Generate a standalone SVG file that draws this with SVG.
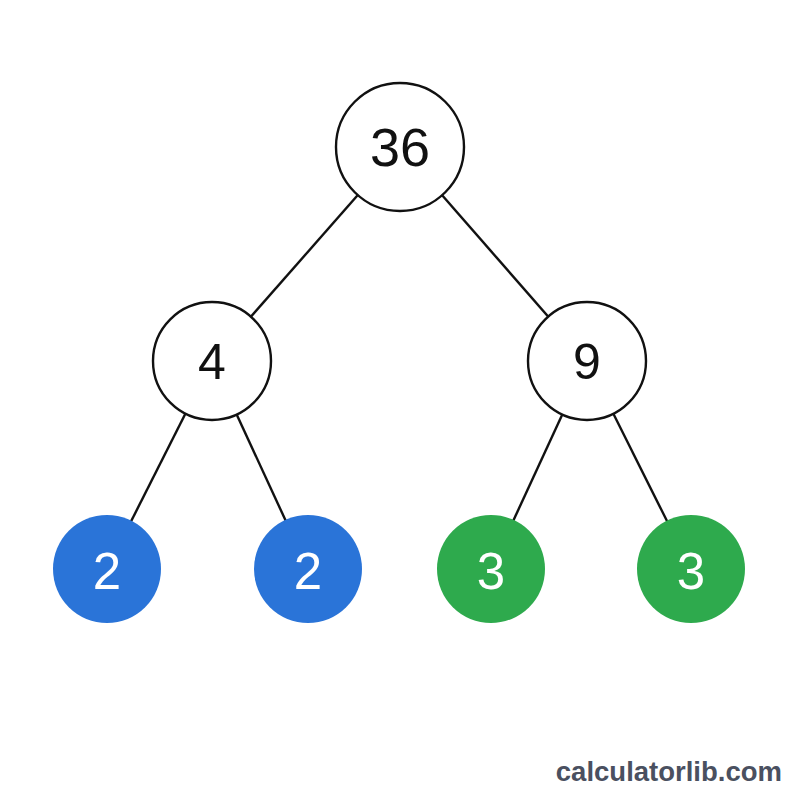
<svg xmlns="http://www.w3.org/2000/svg" width="800" height="800" viewBox="0 0 800 800">
<style>
.edge{stroke:#111;stroke-width:2.4;fill:none}
.inner{fill:#fff;stroke:#111;stroke-width:2.4}
.blue{fill:#2a74d8}
.green{fill:#2eaa4d}
.t{font-family:"Liberation Sans",Arial,sans-serif;text-anchor:middle}
.dark{fill:#111}
.white{fill:#fff}
</style>
<rect width="800" height="800" fill="#fff"/>
<g id="connectors">
<line class="edge" x1="400" y1="147" x2="212" y2="361"/>
<line class="edge" x1="400" y1="147" x2="587" y2="361"/>
<line class="edge" x1="212" y1="361" x2="107" y2="569"/>
<line class="edge" x1="212" y1="361" x2="308" y2="569"/>
<line class="edge" x1="587" y1="361" x2="491" y2="569"/>
<line class="edge" x1="587" y1="361" x2="691" y2="569"/>
</g>
<g id="n36"><circle class="inner" cx="400" cy="147" r="64"/><text class="t dark" x="400" y="166" font-size="54">36</text></g>
<g id="n4"><circle class="inner" cx="212" cy="361" r="59"/><text class="t dark" x="212" y="379" font-size="50">4</text></g>
<g id="n9"><circle class="inner" cx="587" cy="361" r="59"/><text class="t dark" x="587" y="379" font-size="50">9</text></g>
<g id="n2a"><circle class="blue" cx="107" cy="569" r="54"/><text class="t white" x="107" y="589" font-size="51">2</text></g>
<g id="n2b"><circle class="blue" cx="308" cy="569" r="54"/><text class="t white" x="308" y="589" font-size="51">2</text></g>
<g id="n3a"><circle class="green" cx="491" cy="569" r="54"/><text class="t white" x="491" y="589" font-size="51">3</text></g>
<g id="n3b"><circle class="green" cx="691" cy="569" r="54"/><text class="t white" x="691" y="589" font-size="51">3</text></g>
<text x="782" y="781" font-family="'Liberation Sans',Arial,sans-serif" font-weight="bold" font-size="27.5" fill="#4a5060" text-anchor="end">calculatorlib.com</text>
</svg>
